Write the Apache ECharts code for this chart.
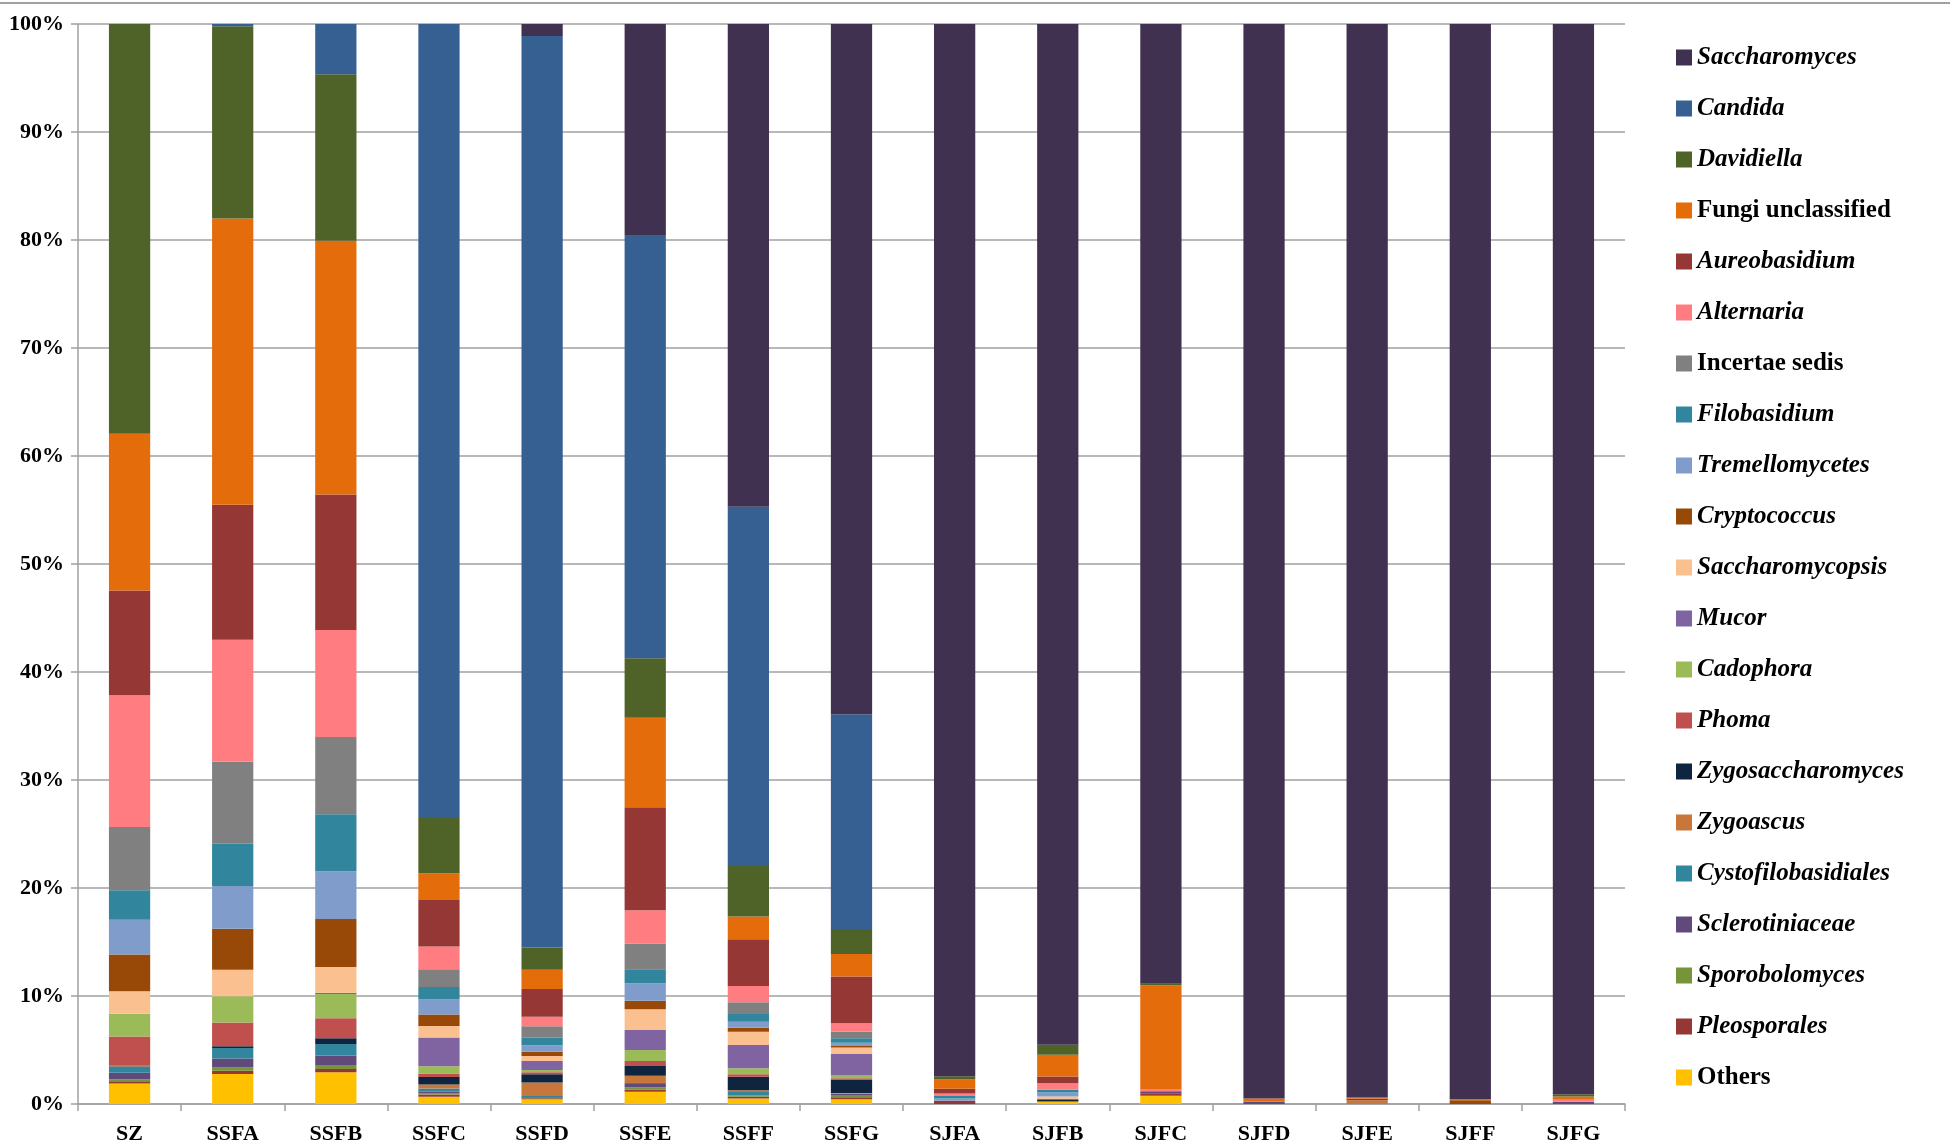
<!DOCTYPE html>
<html>
<head>
<meta charset="utf-8">
<title>Fungal genera relative abundance</title>
<script src="https://cdn.jsdelivr.net/npm/echarts@6.0.0/dist/echarts.min.js"></script>
<style>
  html, body { margin: 0; padding: 0; background: #fff; }
  #chart { width: 1950px; height: 1145px; }
</style>
</head>
<body>
<div id="chart"></div>
<script>
// samples on the x axis
var samples = ['SZ', 'SSFA', 'SSFB', 'SSFC', 'SSFD', 'SSFE', 'SSFF', 'SSFG', 'SJFA', 'SJFB', 'SJFC', 'SJFD', 'SJFE', 'SJFF', 'SJFG'];
var yTicks = [0, 10, 20, 30, 40, 50, 60, 70, 80, 90, 100];

// relative abundance (%) per genus, one value per sample (stack order: bottom first)
var others              = [1.9, 2.78, 2.93, 0.68, 0.43, 1.14, 0.52, 0.43, 0, 0.2, 0.77, 0, 0, 0, 0];
var pleosporales        = [0.2, 0.3, 0.31, 0.2, 0.1, 0.2, 0.15, 0.2, 0.3, 0.05, 0.22, 0, 0, 0, 0];
var sporobolomyces      = [0.2, 0.3, 0.37, 0.1, 0.05, 0.2, 0.15, 0.2, 0, 0, 0, 0, 0, 0, 0];
var sclerotiniaceae     = [0.6, 0.83, 0.87, 0.15, 0.06, 0.31, 0, 0.1, 0, 0, 0.2, 0.2, 0, 0, 0.2];
var cystofilobasidiales = [0.55, 0.97, 1.08, 0.3, 0.1, 0.1, 0.3, 0.05, 0, 0, 0, 0, 0, 0, 0];
var zygoascus           = [0.05, 0, 0, 0.37, 1.24, 0.67, 0.16, 0.05, 0, 0, 0, 0, 0.35, 0, 0];
var zygosaccharomyces   = [0.05, 0.17, 0.52, 0.71, 0.77, 0.9, 1.25, 1.25, 0, 0.2, 0, 0, 0, 0, 0];
var phoma               = [2.7, 2.19, 1.85, 0.31, 0.2, 0.46, 0.22, 0.1, 0, 0, 0, 0, 0, 0, 0];
var cadophora           = [2.1, 2.44, 2.26, 0.68, 0.2, 1.02, 0.55, 0.25, 0, 0, 0, 0, 0, 0, 0];
var mucor               = [0, 0, 0.1, 2.65, 0.83, 1.85, 2.16, 2.0, 0, 0, 0, 0, 0, 0, 0];
var saccharomycopsis    = [2.1, 2.44, 2.4, 1.08, 0.46, 1.92, 1.24, 0.59, 0, 0.25, 0, 0, 0, 0, 0];
var cryptococcus        = [3.4, 3.8, 4.44, 1.05, 0.4, 0.8, 0.37, 0.15, 0, 0, 0, 0, 0, 0.35, 0];
var tremellomycetes     = [3.2, 3.97, 4.41, 1.39, 0.61, 1.6, 0.55, 0.31, 0.21, 0.37, 0, 0, 0, 0, 0];
var filobasidium        = [2.75, 3.9, 5.3, 1.17, 0.68, 1.3, 0.71, 0.4, 0.22, 0.25, 0, 0, 0, 0, 0];
var incertaeSedis       = [5.85, 7.6, 7.15, 1.64, 1.08, 2.4, 1.08, 0.62, 0, 0, 0, 0, 0, 0, 0];
var alternaria          = [12.2, 11.3, 9.9, 2.1, 0.87, 3.06, 1.52, 0.77, 0.25, 0.61, 0.2, 0, 0, 0, 0.2];
var aureobasidium       = [9.7, 12.5, 12.55, 4.32, 2.56, 9.54, 4.32, 4.33, 0.43, 0.62, 0, 0, 0.15, 0, 0];
var fungiUnclassified   = [14.5, 26.5, 23.5, 2.47, 1.79, 8.3, 2.1, 2.1, 0.86, 2.01, 9.6, 0.3, 0.1, 0.1, 0.3];
var davidiella          = [37.95, 17.8, 15.4, 5.1, 2.06, 5.5, 4.69, 2.3, 0.31, 0.92, 0.15, 0, 0, 0, 0.2];
var candida             = [0, 0.21, 4.66, 73.53, 84.4, 39.2, 33.26, 19.88, 0, 0, 0, 0, 0, 0, 0];
var saccharomyces       = [0, 0, 0, 0, 1.11, 19.53, 44.7, 63.92, 97.42, 94.52, 88.86, 99.5, 99.5, 99.55, 99.1];

var genera = [
  { name: 'Others', data: others, color: '#FFC000', italic: false },
  { name: 'Pleosporales', data: pleosporales, color: '#953735', italic: true },
  { name: 'Sporobolomyces', data: sporobolomyces, color: '#77933C', italic: true },
  { name: 'Sclerotiniaceae', data: sclerotiniaceae, color: '#604A7B', italic: true },
  { name: 'Cystofilobasidiales', data: cystofilobasidiales, color: '#31859C', italic: true },
  { name: 'Zygoascus', data: zygoascus, color: '#C8773A', italic: true },
  { name: 'Zygosaccharomyces', data: zygosaccharomyces, color: '#0F243E', italic: true },
  { name: 'Phoma', data: phoma, color: '#C0504D', italic: true },
  { name: 'Cadophora', data: cadophora, color: '#9BBB59', italic: true },
  { name: 'Mucor', data: mucor, color: '#8064A2', italic: true },
  { name: 'Saccharomycopsis', data: saccharomycopsis, color: '#FAC090', italic: true },
  { name: 'Cryptococcus', data: cryptococcus, color: '#984807', italic: true },
  { name: 'Tremellomycetes', data: tremellomycetes, color: '#7F9CCB', italic: true },
  { name: 'Filobasidium', data: filobasidium, color: '#31859C', italic: true },
  { name: 'Incertae sedis', data: incertaeSedis, color: '#808080', italic: false },
  { name: 'Alternaria', data: alternaria, color: '#FF7C80', italic: true },
  { name: 'Aureobasidium', data: aureobasidium, color: '#953735', italic: true },
  { name: 'Fungi unclassified', data: fungiUnclassified, color: '#E46C0A', italic: false },
  { name: 'Davidiella', data: davidiella, color: '#4F6228', italic: true },
  { name: 'Candida', data: candida, color: '#376092', italic: true },
  { name: 'Saccharomyces', data: saccharomyces, color: '#403151', italic: true }
];

var serif = "'Times New Roman', 'Liberation Serif', 'DejaVu Serif', serif";
var gridGray = '#A0A0A0';

var series = genera.map(function (g) {
  return {
    name: g.name,
    type: 'bar',
    stack: 'total',
    barWidth: '40%',
    data: g.data,
    itemStyle: { color: g.color },
    emphasis: { disabled: true }
  };
});

// legend lists the top of the stack first
var legendData = genera.slice().reverse().map(function (g) {
  return { name: g.name, textStyle: { fontStyle: g.italic ? 'italic' : 'normal' } };
});

var chart = echarts.init(document.getElementById('chart'));
chart.setOption({
  backgroundColor: '#fff',
  animation: false,
  grid: { left: 78, right: 325, top: 24, bottom: 41, containLabel: false },
  legend: {
    orient: 'vertical',
    left: 1676,
    top: 45,
    icon: 'rect',
    itemWidth: 16,
    itemHeight: 16,
    itemGap: 26,
    padding: 0,
    selectedMode: false,
    data: legendData,
    textStyle: { fontFamily: serif, fontSize: 25, fontWeight: 'bold', color: '#000', lineHeight: 25 }
  },
  xAxis: {
    type: 'category',
    data: samples,
    axisLine: { lineStyle: { color: gridGray, width: 1.5 } },
    axisTick: { show: true, length: 7, lineStyle: { color: gridGray, width: 1.5 } },
    axisLabel: { fontFamily: serif, fontSize: 22, fontWeight: 'bold', color: '#000', margin: 19 }
  },
  yAxis: {
    type: 'value',
    min: yTicks[0],
    max: yTicks[yTicks.length - 1],
    interval: 10,
    axisLine: { show: true, lineStyle: { color: gridGray, width: 1.5 } },
    axisTick: { show: true, length: 7, lineStyle: { color: gridGray, width: 1.5 } },
    splitLine: { lineStyle: { color: gridGray, width: 1.5 } },
    axisLabel: { formatter: '{value}%', fontFamily: serif, fontSize: 22, fontWeight: 'bold', color: '#000', margin: 14 }
  },
  graphic: [
    { type: 'line', shape: { x1: 0, y1: 3, x2: 1950, y2: 3 }, style: { stroke: '#A0A0A0', lineWidth: 2 } }
  ],
  series: series
});
</script>
</body>
</html>
